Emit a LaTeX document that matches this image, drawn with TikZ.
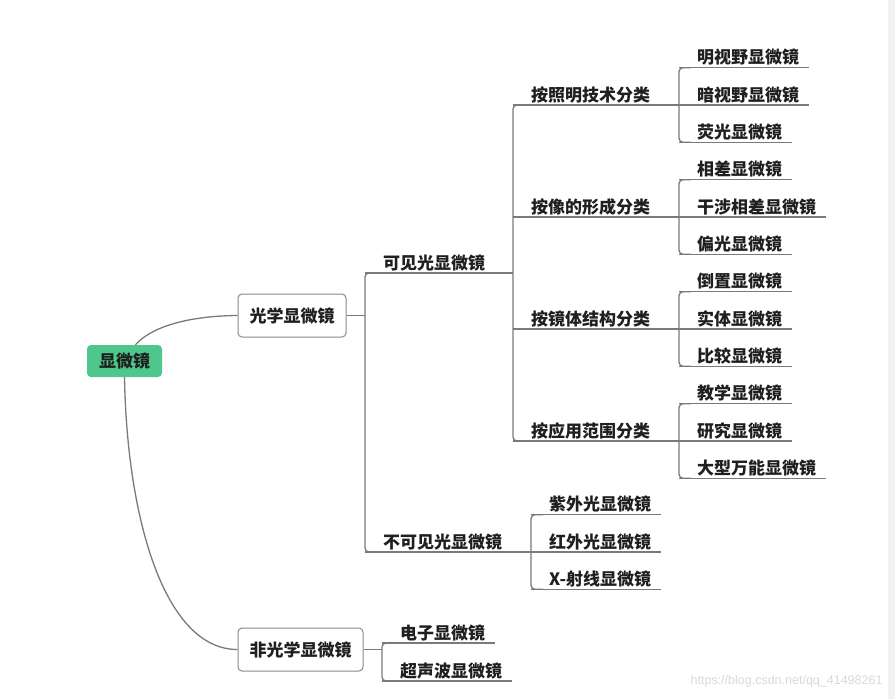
\documentclass[tikz,border=0pt]{standalone}
\usepackage{fontspec}
\setmainfont{Noto Sans CJK SC}
\newfontfamily\wmfont{Liberation Sans}
\usetikzlibrary{calc}
\definecolor{lncol}{HTML}{7A7A7A}
\definecolor{rootgreen}{HTML}{4DC88A}
\definecolor{boxborder}{HTML}{8A8A8A}
\tikzset{
  ln/.style={draw=lncol, line width=1.3pt},
  brk/.style={ln, rounded corners=4pt},
  txt/.style={font=\fontsize{17}{17}\selectfont\bfseries, text=black!88},
  leaf/.style={txt, anchor=south west, inner xsep=0pt, inner ysep=3.8pt, text depth=0pt,
    execute at begin node={\hspace*{18pt}}, execute at end node={\hspace*{10pt}}},
  rootbox/.style={txt, fill=rootgreen, rounded corners=4pt, minimum width=75pt, minimum height=32pt, inner sep=0pt},
  mainbox/.style={txt, draw=boxborder, line width=1pt, fill=white, rounded corners=4pt, minimum height=43pt, inner xsep=9pt, inner ysep=0pt}
}
\begin{document}
\begin{tikzpicture}[x=1pt, y=-1pt]
\useasboundingbox (0,0) rectangle (895,699);
\fill[white] (0,0) rectangle (895,699);
\fill[black!5] (888,0) rectangle (895,699);
\node[font=\wmfont\fontsize{12.5}{12.5}\selectfont, text=black!15, anchor=east] (wm) at (886,681) {https://blog.csdn.net/qq\_41498261};

% root and main boxes
\node[rootbox] (root) at (124.5,361) {显微镜};
\node[mainbox, minimum width=108pt] (opt) at (292,315.5) {光学显微镜};
\node[mainbox, minimum width=125pt] (nopt) at (300.5,649.5) {非光学显微镜};

\draw[ln] ($(root.north)+(11,0)$) .. controls (150,328) and (185,316) .. (opt.west);
\draw[ln] (root.south) .. controls (127,520) and (165,649.5) .. (nopt.west);

% level 1
\node[leaf] (vis) at (365,273) {可见光显微镜};
\node[leaf] (invis) at (365,552) {不可见光显微镜};

% level 2
\node[leaf] (g1) at (513,105) {按照明技术分类};
\node[leaf] (g2) at (513,217) {按像的形成分类};
\node[leaf] (g3) at (513,329) {按镜体结构分类};
\node[leaf] (g4) at (513,441) {按应用范围分类};

% leaves
\node[leaf] (a1) at (679,67.7) {明视野显微镜};
\node[leaf] (a2) at (679,105) {暗视野显微镜};
\node[leaf] (a3) at (679,142.3) {荧光显微镜};
\node[leaf] (b1) at (679,179.7) {相差显微镜};
\node[leaf] (b2) at (679,217) {干涉相差显微镜};
\node[leaf] (b3) at (679,254.3) {偏光显微镜};
\node[leaf] (c1) at (679,291.7) {倒置显微镜};
\node[leaf] (c2) at (679,329) {实体显微镜};
\node[leaf] (c3) at (679,366.3) {比较显微镜};
\node[leaf] (d1) at (679,403.7) {教学显微镜};
\node[leaf] (d2) at (679,441) {研究显微镜};
\node[leaf] (d3) at (679,478.3) {大型万能显微镜};
\node[leaf] (e1) at (531,514.7) {紫外光显微镜};
\node[leaf] (e2) at (531,552) {红外光显微镜};
\node[leaf] (e3) at (531,589.3) {X-射线显微镜};
\node[leaf] (f1) at (382,643) {电子显微镜};
\node[leaf] (f2) at (382,681) {超声波显微镜};

% underlines
\foreach \n in {vis,invis,g1,g2,g3,g4,a1,a2,a3,b1,b2,b3,c1,c2,c3,d1,d2,d3,e1,e2,e3,f1,f2}
  \draw[ln] (\n.south west) -- (\n.south east);

% connectors parent -> bracket
\draw[ln] (opt.east) -- (opt.east -| vis.south west);
\draw[ln] (nopt.east) -- (nopt.east -| f1.south west);
\draw[ln] (vis.south east) -- (vis.south east -| g1.south west);
\draw[ln] (invis.south east) -- (invis.south east -| e1.south west);
\draw[ln] (g1.south east) -- (g1.south east -| a1.south west);
\draw[ln] (g2.south east) -- (g2.south east -| b1.south west);
\draw[ln] (g3.south east) -- (g3.south east -| c1.south west);
\draw[ln] (g4.south east) -- (g4.south east -| d1.south west);

% brackets
\draw[brk] ($(vis.south west)+(12,0)$) -- (vis.south west) -- (invis.south west) -- ++(12,0);
\draw[brk] ($(g1.south west)+(12,0)$) -- (g1.south west) -- (g4.south west) -- ++(12,0);
\draw[brk] ($(a1.south west)+(12,0)$) -- (a1.south west) -- (a3.south west) -- ++(12,0);
\draw[brk] ($(b1.south west)+(12,0)$) -- (b1.south west) -- (b3.south west) -- ++(12,0);
\draw[brk] ($(c1.south west)+(12,0)$) -- (c1.south west) -- (c3.south west) -- ++(12,0);
\draw[brk] ($(d1.south west)+(12,0)$) -- (d1.south west) -- (d3.south west) -- ++(12,0);
\draw[brk] ($(e1.south west)+(12,0)$) -- (e1.south west) -- (e3.south west) -- ++(12,0);
\draw[brk] ($(f1.south west)+(12,0)$) -- (f1.south west) -- (f2.south west) -- ++(12,0);
\end{tikzpicture}
\end{document}
